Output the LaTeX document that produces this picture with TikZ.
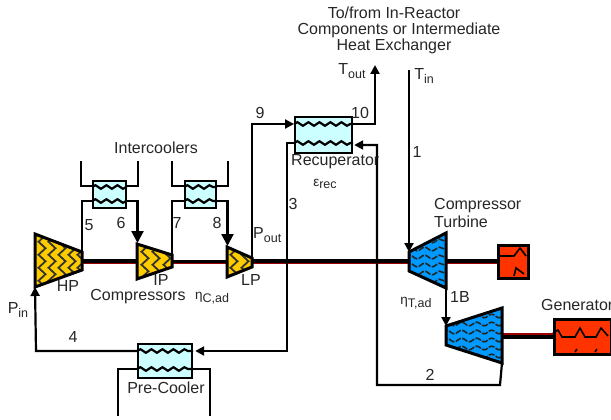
\documentclass[tikz,border=0pt]{standalone}
\usepackage{fontspec}
\setmainfont{Liberation Sans}
\usetikzlibrary{arrows.meta,decorations.pathmorphing,calc}
\definecolor{hxfill}{HTML}{CCFFFF}
\definecolor{compfill}{HTML}{FFCC00}
\definecolor{turbfill}{HTML}{0099FF}
\definecolor{genfill}{HTML}{FF3300}
\definecolor{shaftred}{HTML}{990000}
\newcommand{\lowsub}[1]{\raisebox{-3.5pt}{\fontsize{12.5}{12}\selectfont #1}}
\newcommand{\greeklab}[2]{{\fontsize{13.5}{12}\selectfont #1\raisebox{-2.5pt}{\fontsize{12.5}{12}\selectfont #2}}}
\tikzset{
  x=1pt,y=-1pt,
  lab/.style={font=\fontsize{16}{17}\selectfont,inner sep=0pt,text=black!85},
  tightlab/.style={lab,text height=10pt,text depth=0pt},
  flow/.style={line width=2.2pt,line join=miter},
  flowa/.style={flow,-{Triangle[length=9pt,width=9pt]}},
  flowb/.style={flow,-{Triangle[length=12pt,width=12pt]}},
  hx/.style={draw,line width=2.2pt,fill=hxfill},
  wig/.style={line width=2.2pt,decorate,decoration={snake,segment length=11pt,amplitude=1.8pt}},
  mach/.style={line width=3pt,line join=miter},
  zig/.style={line width=1.8pt,black!80,decorate,decoration={zigzag,segment length=13pt,amplitude=3.5pt}},
  wave/.style={line width=1.6pt,black!85,dashed,dash pattern=on 6pt off 1.5pt,decorate,decoration={snake,segment length=15pt,amplitude=1.8pt}},
  gen/.style={draw,line width=2.6pt,fill=genfill},
  shaftthick/.style={line width=4.5pt},
  shaftthin/.style={line width=2.8pt},
  shaftcore/.style={line width=1.2pt,shaftred},
}
\begin{document}
\begin{tikzpicture}
\useasboundingbox (0,0) rectangle (611,420);
% named points
\coordinate (hpTL) at (35,234); \coordinate (hpTR) at (82,252); \coordinate (hpBR) at (82,270); \coordinate (hpBL) at (35,287);
\coordinate (ipTL) at (137,244); \coordinate (ipTR) at (172,255); \coordinate (ipBR) at (172,267); \coordinate (ipBL) at (137,279);
\coordinate (lpTL) at (227,247); \coordinate (lpTR) at (252,258); \coordinate (lpBR) at (252,267); \coordinate (lpBL) at (227,277);
\coordinate (t1TL) at (409,252); \coordinate (t1TR) at (446,233); \coordinate (t1BR) at (446,288); \coordinate (t1BL) at (409,271);
\coordinate (t2TL) at (446,326); \coordinate (t2TR) at (502,308); \coordinate (t2BR) at (502,363); \coordinate (t2BL) at (446,345);
% heat exchangers
\node[hx,inner sep=0pt,anchor=north west,minimum width=33pt,minimum height=27pt] (ic1) at (92,180) {};
\node[hx,inner sep=0pt,anchor=north west,minimum width=31pt,minimum height=27pt] (ic2) at (184,180) {};
\node[hx,inner sep=0pt,anchor=north west,minimum width=57pt,minimum height=36pt] (rec) at (294,116) {};
\node[hx,inner sep=0pt,anchor=north west,minimum width=54pt,minimum height=34pt] (pre) at (137,343) {};
% generators
\node[gen,inner sep=0pt,anchor=north west,minimum width=30pt,minimum height=33pt] (g1) at (497,244) {};
\node[gen,inner sep=0pt,anchor=north west,minimum width=57pt,minimum height=35pt] (g2) at (553,318) {};
% shafts
\draw[shaftthick] (hpTR|-0,261.5) -- (ipTL|-0,261.5);
\draw[shaftthin] (ipTR|-0,261.5) -- (lpTL|-0,261.5);
\draw[shaftthick] (lpTR|-0,261.5) -- (t1TL|-0,261.5);
\draw[shaftthick] (t1TR|-0,261.5) -- (g1.west|-0,261.5);
\draw[line width=6pt] (t2TR|-0,336) -- (g2.west|-0,336);
\draw[shaftcore] (hpTR|-0,263.5) -- (ipTL|-0,263.5) (ipTR|-0,263.5) -- (lpTL|-0,263.5) (lpTR|-0,263.5) -- (t1TL|-0,263.5) (t1TR|-0,263.5) -- (g1.west|-0,263.5) (t2TR|-0,334) -- (g2.west|-0,334);
% compressors
\foreach \a/\b/\c/\d/\xs/\ya/\yb in {hpTL/hpTR/hpBR/hpBL/{42,52,62,72,81}/232/292, ipTL/ipTR/ipBR/ipBL/{145,156,167}/242/282, lpTL/lpTR/lpBR/lpBL/{234,245}/245/280}{
  \fill[compfill] (\a)--(\b)--(\c)--(\d)--cycle;
  \begin{scope}
    \clip (\a)--(\b)--(\c)--(\d)--cycle;
    \foreach \x in \xs { \draw[zig] (\x,\ya) -- (\x,\yb); }
  \end{scope}
  \draw[mach] (\a)--(\b)--(\c)--(\d)--cycle;
}
% turbines
\foreach \a/\b/\c/\d/\ys/\xa/\xb in {t1TL/t1TR/t1BR/t1BL/{241,249,257,265,273,281,289}/405/450, t2TL/t2TR/t2BR/t2BL/{316,324,332,340,348,356,364}/442/506}{
  \fill[turbfill] (\a)--(\b)--(\c)--(\d)--cycle;
  \begin{scope}
    \clip (\a)--(\b)--(\c)--(\d)--cycle;
    \foreach \y in \ys { \draw[wave] (\xa,\y) -- (\xb,\y); }
  \end{scope}
  \draw[mach] (\a)--(\b)--(\c)--(\d)--cycle;
}
% generator windings
\draw[line width=1.6pt] (g1.west|-0,256) -- (514,256) -- (520,248) -- (526,256);
\draw[line width=1.6pt] (514,276) -- (516,268) -- (524,274);
\draw[line width=1.6pt] (g2.west|-0,333) -- (558,330) -- (562,337) -- (575,337) -- (580,328) -- (585,337) -- (596,337) -- (601,328) -- (608,336);
\draw[line width=1.6pt] (575,352) -- (577,349) (595,352) -- (597,349);
% coil wiggles
\draw[wig] (ic1.west|-0,187) -- (ic1.east|-0,187);
\draw[wig] (ic1.west|-0,201) -- (ic1.east|-0,201);
\draw[wig] (ic2.west|-0,187) -- (ic2.east|-0,187);
\draw[wig] (ic2.west|-0,201) -- (ic2.east|-0,201);
\draw[wig] (rec.west|-0,124) -- (rec.east|-0,124);
\draw[wig] (rec.west|-0,143) -- (rec.east|-0,143);
\draw[wig] (pre.west|-0,351) -- (pre.east|-0,351);
\draw[wig] (pre.west|-0,369) -- (pre.east|-0,369);
% coolant stubs
\coordinate (ic1a) at (81,161); \coordinate (ic1b) at (138,161);
\coordinate (ic2a) at (172,161); \coordinate (ic2b) at (228,161);
\coordinate (prea) at (118,416); \coordinate (preb) at (210,416);
\draw[flow] (ic1a) |- (ic1.west|-0,186);
\draw[flow] (ic1b) |- (ic1.east|-0,186);
\draw[flow] (ic2a) |- (ic2.west|-0,186);
\draw[flow] (ic2b) |- (ic2.east|-0,186);
\draw[flow] (prea) |- (pre.west|-0,369);
\draw[flow] (preb) |- (pre.east|-0,369);
% cycle connectors
\draw[flow] (hpTR) -- (82,201) -- (ic1.west|-0,201);
\draw[flowb] (ic1.east|-0,201) -- (137.5,201) -- (137.5,243);
\draw[flow] (ipTR) -- (172,201) -- (ic2.west|-0,201);
\draw[flowb] (ic2.east|-0,201) -- (227.5,201) -- (227.5,246);
\draw[flowa] (lpTR) -- (252,124) -- (rec.west|-0,124);
\draw[flowa] (rec.east|-0,124) -- (375,124) -- (375,65);
\coordinate (tinTop) at (409,70);
\draw[flowa] (tinTop) -- (t1TL);
\draw[flowa] (t1BR) -- (t2TL);
\draw[flowa] (t2BR) -- (500,385) -- (377,385) -- (377,145) -- ($(rec.east|-0,145)+(1,0)$);
\draw[flowa] (rec.west|-0,143) -- (287,143) -- (287,351) -- ($(pre.east|-0,351)+(2,0)$);
\draw[flowa] (pre.west|-0,351) -- (36,351) -- (hpBL);
% labels
\node[lab] (lIC) at (156,148) {Intercoolers};
\node[lab] (l5) at (89,225) {5};
\node[lab] (l6) at (121,223) {6};
\node[lab] (l7) at (177,223) {7};
\node[lab] (l8) at (217,223) {8};
\node[lab] (lHP) at (68,286) {HP};
\node[lab] (lIP) at (161,280) {IP};
\node[lab] (lLP) at (251,280) {LP};
\node[lab] (lComp) at (138,297) {Compressors};
\node[lab] (lEC) at (212,298) {\greeklab{η}{C,ad}};
\node[lab,anchor=west] (lPo) at (253,235) {P\lowsub{out}};
\node[lab] (lPi) at (18,310) {P\lowsub{in}};
\node[lab] (l4) at (73,337) {4};
\node[lab] (lPC) at (166,388) {Pre-Cooler};
\node[tightlab] (lT1) at (394,14) {To/from In-Reactor};
\node[tightlab] (lT2) at (399,30) {Components or Intermediate};
\node[tightlab] (lT3) at (394,46) {Heat Exchanger};
\node[lab] (lTo) at (352,71) {T\lowsub{out}};
\node[lab] (lTi) at (424,76) {T\lowsub{in}};
\node[lab] (l9) at (260,113) {9};
\node[lab] (l10) at (360,113) {10};
\node[lab,anchor=west] (lRec) at (291,162) {Recuperator};
\node[lab] (lEr) at (325,184) {\greeklab{ε}{rec}};
\node[lab] (l1) at (417,152) {1};
\node[lab] (l3) at (293,204) {3};
\node[lab,anchor=west] (lCT1) at (434,206) {Compressor};
\node[lab,anchor=west] (lCT2) at (434,222) {Turbine};
\node[lab] (lET) at (416,303) {\greeklab{η}{T,ad}};
\node[lab] (l1B) at (460,297) {1B};
\node[lab,anchor=west] (lG) at (541,305) {Generator};
\node[lab] (l2) at (430,375) {2};
\end{tikzpicture}
\end{document}
